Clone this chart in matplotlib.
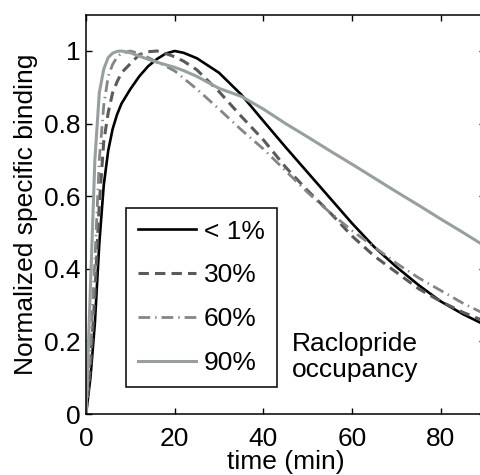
# Normalized specific binding curves vs time for several raclopride occupancies

import matplotlib.pyplot as plt

plt.rcParams['font.family'] = ['Liberation Sans', 'DejaVu Sans']

time = [0, 1, 2, 3, 4, 5, 6, 7, 8, 10, 12, 14, 16, 18, 20, 22, 25,
        30, 35, 40, 45, 50, 55, 60, 65, 70, 75, 80, 85, 90]

occ_lt1 = [0, 0.10, 0.25, 0.47, 0.63, 0.725, 0.785, 0.825, 0.855, 0.895, 0.93, 0.958,
           0.978, 0.993, 1.0, 0.995, 0.98, 0.94, 0.88, 0.807, 0.735, 0.665, 0.595,
           0.525, 0.46, 0.405, 0.355, 0.31, 0.275, 0.245]
occ_30 = [0, 0.13, 0.33, 0.58, 0.75, 0.83, 0.885, 0.915, 0.94, 0.965, 0.99, 0.998,
          1.0, 0.993, 0.984, 0.972, 0.948, 0.888, 0.82, 0.755, 0.68, 0.615, 0.555,
          0.49, 0.435, 0.39, 0.345, 0.31, 0.28, 0.255]
occ_60 = [0, 0.18, 0.42, 0.70, 0.85, 0.93, 0.963, 0.983, 0.994, 1.0, 0.993, 0.982,
          0.97, 0.958, 0.945, 0.925, 0.895, 0.84, 0.783, 0.73, 0.67, 0.61, 0.555,
          0.505, 0.46, 0.415, 0.375, 0.34, 0.305, 0.275]
occ_90 = [0, 0.35, 0.70, 0.885, 0.95, 0.982, 0.994, 0.999, 1.0, 0.995, 0.986, 0.977,
          0.969, 0.962, 0.955, 0.946, 0.93, 0.897, 0.875, 0.84, 0.80, 0.763, 0.725,
          0.688, 0.65, 0.612, 0.575, 0.537, 0.50, 0.462]

labels = ['< 1%', '30%', '60%', '90%']

W, H = 481, 475
fig = plt.figure(figsize=(W / 100, H / 100), dpi=100)
ax = fig.add_axes([86 / W, (H - 414) / H, (485.2 - 86) / W, (414 - 14.7) / H])

ax.plot(time, occ_lt1, color='black', lw=1.9, label=labels[0])
ax.plot(time, occ_30, color='#5a5a5a', lw=2.2, ls=(0, (3.4, 2.0)), label=labels[1])
ax.plot(time, occ_60, color='#858585', lw=2.0, ls=(0, (4.2, 1.8, 0.5, 1.8)), label=labels[2])
ax.plot(time, occ_90, color='#97a09f', lw=2.2, label=labels[3])

ax.set_xlim(0, 90)
ax.set_ylim(0, 1.1)
ax.set_xticks([0, 20, 40, 60, 80])
ax.set_yticks([0, 0.2, 0.4, 0.6, 0.8, 1])
ax.set_yticklabels(['0', '0.2', '0.4', '0.6', '0.8', '1'])
ax.tick_params(direction='in', length=4, width=1, labelsize=19, top=True, right=True)
ax.tick_params(axis='x', pad=9)
ax.tick_params(axis='y', pad=4)
for s in ax.spines.values():
    s.set_linewidth(1.1)

ax.set_xlabel('time (min)', fontsize=19, labelpad=0)
ax.set_ylabel('Normalized specific binding', fontsize=19, labelpad=4)

ax.text(46.4, 0.158, 'Raclopride\noccupancy', fontsize=19, va='center', ha='left',
        linespacing=1.12)

leg = ax.legend(loc='lower left', bbox_to_anchor=(0.10, 0.068), borderaxespad=0,
                fontsize=19, handlelength=2.2, handletextpad=0.3, labelspacing=0.75,
                borderpad=0.45, fancybox=False, framealpha=1, edgecolor='black')
leg.get_frame().set_linewidth(1.1)

fig.savefig('out.png', dpi=100)
